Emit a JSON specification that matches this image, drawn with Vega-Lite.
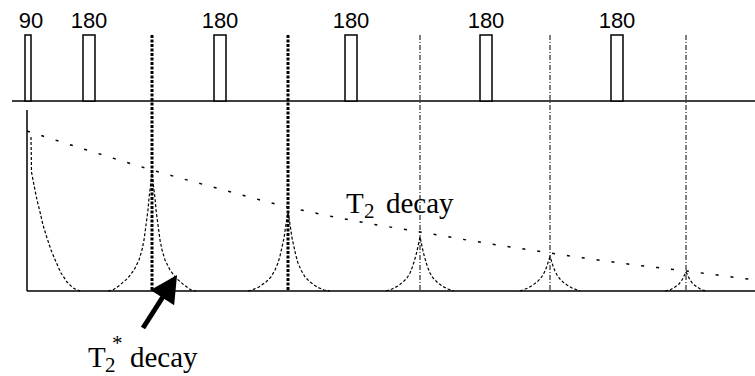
{
  "$schema": "https://vega.github.io/schema/vega-lite/v6.json",
  "width": 755,
  "height": 376,
  "padding": 0,
  "autosize": {"type": "none"},
  "background": "white",
  "config": {"view": {"stroke": null}},
  "layer": [
    {
      "data": {"values": [
        {"kind": "pulse baseline", "t": 12, "t2": 755, "h": 275},
        {"kind": "signal baseline", "t": 27, "t2": 755, "h": 85}
      ]},
      "mark": {"type": "rule", "color": "black", "strokeWidth": 1.5},
      "encoding": {
        "x": {"field": "t", "type": "quantitative", "scale": {"domain": [0, 755], "nice": false, "zero": false}, "axis": null},
        "x2": {"field": "t2"},
        "y": {"field": "h", "type": "quantitative", "scale": {"domain": [0, 376], "nice": false, "zero": false}, "axis": null}
      }
    },
    {
      "data": {"values": [{"t": 27, "h": 266, "h2": 85}]},
      "mark": {"type": "rule", "color": "black", "strokeWidth": 1.5},
      "encoding": {
        "x": {"field": "t", "type": "quantitative", "scale": {"domain": [0, 755], "nice": false, "zero": false}, "axis": null},
        "y": {"field": "h", "type": "quantitative", "scale": {"domain": [0, 376], "nice": false, "zero": false}, "axis": null},
        "y2": {"field": "h2"}
      }
    },
    {
      "data": {"values": [
        {"label": "90", "t": 25, "t2": 31, "h": 275, "h2": 341},
        {"label": "180", "t": 83, "t2": 95, "h": 275, "h2": 341},
        {"label": "180", "t": 214, "t2": 226, "h": 275, "h2": 341},
        {"label": "180", "t": 345, "t2": 357, "h": 275, "h2": 341},
        {"label": "180", "t": 480, "t2": 492, "h": 275, "h2": 341},
        {"label": "180", "t": 611, "t2": 623, "h": 275, "h2": 341}
      ]},
      "mark": {"type": "rect", "fill": "white", "stroke": "black", "strokeWidth": 1.5},
      "encoding": {
        "x": {"field": "t", "type": "quantitative", "scale": {"domain": [0, 755], "nice": false, "zero": false}, "axis": null},
        "x2": {"field": "t2"},
        "y": {"field": "h", "type": "quantitative", "scale": {"domain": [0, 376], "nice": false, "zero": false}, "axis": null},
        "y2": {"field": "h2"}
      }
    },
    {
      "data": {"values": [
        {"label": "90", "t": 31, "h": 348},
        {"label": "180", "t": 89, "h": 348},
        {"label": "180", "t": 220, "h": 348},
        {"label": "180", "t": 351, "h": 348},
        {"label": "180", "t": 486, "h": 348},
        {"label": "180", "t": 617, "h": 348}
      ]},
      "mark": {"type": "text", "font": "Liberation Sans", "fontSize": 22, "align": "center", "baseline": "alphabetic", "color": "black"},
      "encoding": {
        "x": {"field": "t", "type": "quantitative", "scale": {"domain": [0, 755], "nice": false, "zero": false}, "axis": null},
        "y": {"field": "h", "type": "quantitative", "scale": {"domain": [0, 376], "nice": false, "zero": false}, "axis": null},
        "text": {"field": "label"}
      }
    },
    {
      "data": {"values": [
        {"t": 152, "h": 341, "h2": 85},
        {"t": 288, "h": 341, "h2": 85}
      ]},
      "mark": {"type": "rule", "color": "black", "strokeWidth": 3, "strokeDash": [3, 1.5]},
      "encoding": {
        "x": {"field": "t", "type": "quantitative", "scale": {"domain": [0, 755], "nice": false, "zero": false}, "axis": null},
        "y": {"field": "h", "type": "quantitative", "scale": {"domain": [0, 376], "nice": false, "zero": false}, "axis": null},
        "y2": {"field": "h2"}
      }
    },
    {
      "data": {"values": [
        {"t": 420, "h": 341, "h2": 85},
        {"t": 550, "h": 341, "h2": 85},
        {"t": 686, "h": 341, "h2": 85}
      ]},
      "mark": {"type": "rule", "color": "black", "strokeWidth": 1, "strokeDash": [5, 2, 1, 2]},
      "encoding": {
        "x": {"field": "t", "type": "quantitative", "scale": {"domain": [0, 755], "nice": false, "zero": false}, "axis": null},
        "y": {"field": "h", "type": "quantitative", "scale": {"domain": [0, 376], "nice": false, "zero": false}, "axis": null},
        "y2": {"field": "h2"}
      }
    },
    {
      "data": {"values": [
        {"t": 27, "h": 245}, {"t": 90, "h": 225}, {"t": 152, "h": 206}, {"t": 220, "h": 187},
        {"t": 288, "h": 169}, {"t": 350, "h": 156}, {"t": 420, "h": 144}, {"t": 485, "h": 133},
        {"t": 550, "h": 123}, {"t": 620, "h": 113}, {"t": 686, "h": 105}, {"t": 755, "h": 96}
      ]},
      "mark": {"type": "line", "color": "black", "strokeWidth": 1.5, "strokeDash": [3, 12], "interpolate": "monotone"},
      "encoding": {
        "x": {"field": "t", "type": "quantitative", "scale": {"domain": [0, 755], "nice": false, "zero": false}, "axis": null},
        "y": {"field": "h", "type": "quantitative", "scale": {"domain": [0, 376], "nice": false, "zero": false}, "axis": null}
      }
    },
    {
      "data": {"values": [
        {"s": "fid", "t": 31, "h": 239}, {"s": "fid", "t": 31.5, "h": 204}, {"s": "fid", "t": 34, "h": 191}, {"s": "fid", "t": 37, "h": 176},
        {"s": "fid", "t": 40, "h": 164}, {"s": "fid", "t": 43, "h": 151}, {"s": "fid", "t": 47, "h": 138}, {"s": "fid", "t": 51, "h": 126},
        {"s": "fid", "t": 56, "h": 114}, {"s": "fid", "t": 61, "h": 103}, {"s": "fid", "t": 67, "h": 94}, {"s": "fid", "t": 73, "h": 88}, {"s": "fid", "t": 80, "h": 85},

        {"s": "e1", "t": 108, "h": 85}, {"s": "e1", "t": 113, "h": 86}, {"s": "e1", "t": 120, "h": 91}, {"s": "e1", "t": 128, "h": 98},
        {"s": "e1", "t": 134, "h": 106}, {"s": "e1", "t": 139, "h": 116}, {"s": "e1", "t": 142, "h": 126}, {"s": "e1", "t": 144, "h": 136},
        {"s": "e1", "t": 146, "h": 151}, {"s": "e1", "t": 148, "h": 166}, {"s": "e1", "t": 149, "h": 178}, {"s": "e1", "t": 150.5, "h": 190},
        {"s": "e1", "t": 152, "h": 203},
        {"s": "e1", "t": 153.5, "h": 190}, {"s": "e1", "t": 155, "h": 178}, {"s": "e1", "t": 156, "h": 166}, {"s": "e1", "t": 158, "h": 151},
        {"s": "e1", "t": 160, "h": 136}, {"s": "e1", "t": 162, "h": 126}, {"s": "e1", "t": 165, "h": 116}, {"s": "e1", "t": 170, "h": 106},
        {"s": "e1", "t": 176, "h": 98}, {"s": "e1", "t": 184, "h": 91}, {"s": "e1", "t": 191, "h": 86}, {"s": "e1", "t": 196, "h": 85},

        {"s": "e2", "t": 248, "h": 85}, {"s": "e2", "t": 252, "h": 86}, {"s": "e2", "t": 259, "h": 89}, {"s": "e2", "t": 266, "h": 94},
        {"s": "e2", "t": 271, "h": 99}, {"s": "e2", "t": 275, "h": 106}, {"s": "e2", "t": 278, "h": 113}, {"s": "e2", "t": 280, "h": 120},
        {"s": "e2", "t": 282, "h": 129}, {"s": "e2", "t": 284, "h": 138}, {"s": "e2", "t": 285, "h": 145}, {"s": "e2", "t": 286.5, "h": 155},
        {"s": "e2", "t": 288, "h": 164},
        {"s": "e2", "t": 289.5, "h": 155}, {"s": "e2", "t": 291, "h": 145}, {"s": "e2", "t": 292, "h": 138}, {"s": "e2", "t": 294, "h": 129},
        {"s": "e2", "t": 296, "h": 120}, {"s": "e2", "t": 298, "h": 113}, {"s": "e2", "t": 301, "h": 106}, {"s": "e2", "t": 305, "h": 99},
        {"s": "e2", "t": 310, "h": 94}, {"s": "e2", "t": 317, "h": 89}, {"s": "e2", "t": 324, "h": 86}, {"s": "e2", "t": 330, "h": 85},

        {"s": "e3", "t": 386, "h": 85}, {"s": "e3", "t": 392, "h": 87}, {"s": "e3", "t": 398, "h": 90}, {"s": "e3", "t": 403, "h": 94},
        {"s": "e3", "t": 407, "h": 98}, {"s": "e3", "t": 410, "h": 103}, {"s": "e3", "t": 412, "h": 108}, {"s": "e3", "t": 414, "h": 114},
        {"s": "e3", "t": 416, "h": 121}, {"s": "e3", "t": 417, "h": 125}, {"s": "e3", "t": 418.5, "h": 132}, {"s": "e3", "t": 420, "h": 139},
        {"s": "e3", "t": 421.5, "h": 132}, {"s": "e3", "t": 423, "h": 125}, {"s": "e3", "t": 424, "h": 121}, {"s": "e3", "t": 426, "h": 114},
        {"s": "e3", "t": 428, "h": 108}, {"s": "e3", "t": 430, "h": 103}, {"s": "e3", "t": 433, "h": 98}, {"s": "e3", "t": 437, "h": 94},
        {"s": "e3", "t": 442, "h": 90}, {"s": "e3", "t": 448, "h": 87}, {"s": "e3", "t": 454, "h": 85},

        {"s": "e4", "t": 520, "h": 85}, {"s": "e4", "t": 528, "h": 88}, {"s": "e4", "t": 533, "h": 91}, {"s": "e4", "t": 537, "h": 94},
        {"s": "e4", "t": 540, "h": 97}, {"s": "e4", "t": 543, "h": 101}, {"s": "e4", "t": 545, "h": 105}, {"s": "e4", "t": 547, "h": 110},
        {"s": "e4", "t": 548.5, "h": 115}, {"s": "e4", "t": 550, "h": 119}, {"s": "e4", "t": 551.5, "h": 115}, {"s": "e4", "t": 553, "h": 110},
        {"s": "e4", "t": 555, "h": 105}, {"s": "e4", "t": 557, "h": 101}, {"s": "e4", "t": 560, "h": 97}, {"s": "e4", "t": 563, "h": 94},
        {"s": "e4", "t": 567, "h": 91}, {"s": "e4", "t": 572, "h": 88}, {"s": "e4", "t": 580, "h": 85},

        {"s": "e5", "t": 665, "h": 85}, {"s": "e5", "t": 670, "h": 86}, {"s": "e5", "t": 675, "h": 89}, {"s": "e5", "t": 679, "h": 92},
        {"s": "e5", "t": 682, "h": 96}, {"s": "e5", "t": 684, "h": 100}, {"s": "e5", "t": 686, "h": 104}, {"s": "e5", "t": 688, "h": 100},
        {"s": "e5", "t": 690, "h": 96}, {"s": "e5", "t": 693, "h": 92}, {"s": "e5", "t": 697, "h": 89}, {"s": "e5", "t": 702, "h": 86},
        {"s": "e5", "t": 707, "h": 85}
      ]},
      "mark": {"type": "line", "color": "black", "strokeWidth": 1.2, "strokeDash": [3, 2]},
      "encoding": {
        "x": {"field": "t", "type": "quantitative", "scale": {"domain": [0, 755], "nice": false, "zero": false}, "axis": null},
        "y": {"field": "h", "type": "quantitative", "scale": {"domain": [0, 376], "nice": false, "zero": false}, "axis": null},
        "detail": {"field": "s", "type": "nominal"}
      }
    },
    {
      "data": {"values": [{"t": 143, "h": 48, "t2": 166, "h2": 84}]},
      "mark": {"type": "rule", "color": "black", "strokeWidth": 5},
      "encoding": {
        "x": {"field": "t", "type": "quantitative", "scale": {"domain": [0, 755], "nice": false, "zero": false}, "axis": null},
        "x2": {"field": "t2"},
        "y": {"field": "h", "type": "quantitative", "scale": {"domain": [0, 376], "nice": false, "zero": false}, "axis": null},
        "y2": {"field": "h2"}
      }
    },
    {
      "data": {"values": [{"t": 169.7, "h": 89.7}]},
      "mark": {"type": "point", "shape": "M0,-1L1.04,1L-1.04,1Z", "size": 729, "angle": 33, "filled": true, "color": "black", "opacity": 1},
      "encoding": {
        "x": {"field": "t", "type": "quantitative", "scale": {"domain": [0, 755], "nice": false, "zero": false}, "axis": null},
        "y": {"field": "h", "type": "quantitative", "scale": {"domain": [0, 376], "nice": false, "zero": false}, "axis": null}
      }
    },
    {
      "data": {"values": [
        {"txt": "T", "t": 346, "h": 163, "fs": "big"},
        {"txt": "decay", "t": 386, "h": 163, "fs": "big"},
        {"txt": "2", "t": 364, "h": 158, "fs": "small"},
        {"txt": "T", "t": 88, "h": 9, "fs": "big"},
        {"txt": "2", "t": 105, "h": 4, "fs": "small"},
        {"txt": "*", "t": 112, "h": 26, "fs": "small"},
        {"txt": "decay", "t": 130, "h": 9, "fs": "big"}
      ]},
      "mark": {"type": "text", "font": "Liberation Serif", "align": "left", "baseline": "alphabetic", "color": "black"},
      "encoding": {
        "x": {"field": "t", "type": "quantitative", "scale": {"domain": [0, 755], "nice": false, "zero": false}, "axis": null},
        "y": {"field": "h", "type": "quantitative", "scale": {"domain": [0, 376], "nice": false, "zero": false}, "axis": null},
        "text": {"field": "txt"},
        "size": {"field": "fs", "type": "nominal", "scale": {"domain": ["big", "small"], "range": [29, 21]}, "legend": null}
      }
    }
  ]
}
